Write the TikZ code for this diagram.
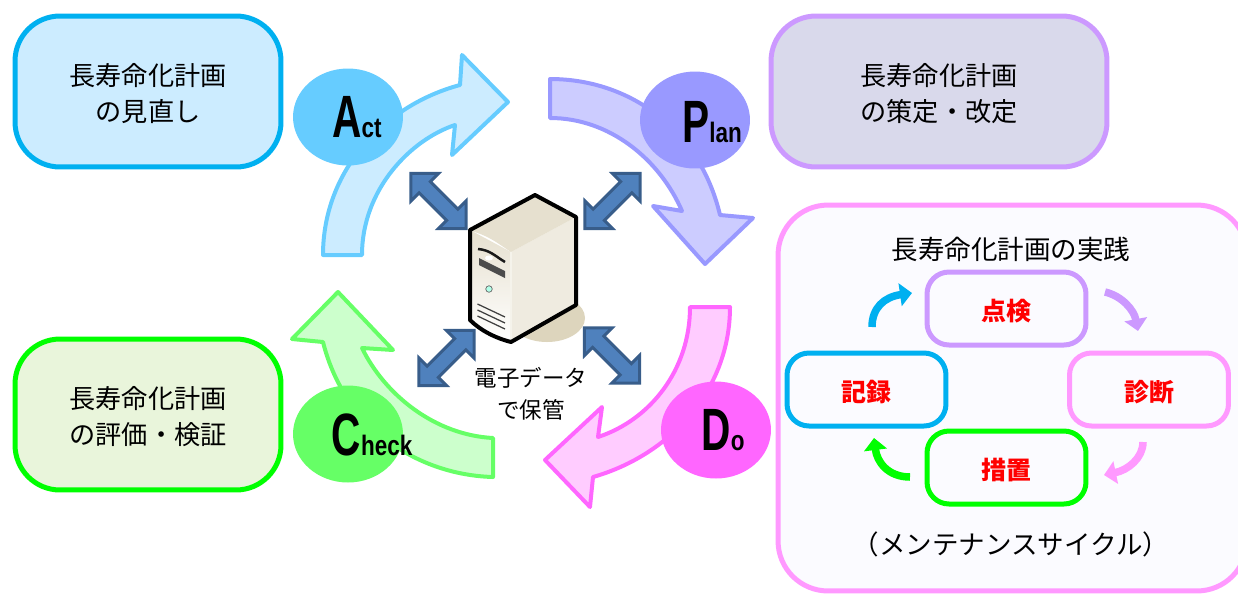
\documentclass[tikz,border=0pt]{standalone}
\usepackage{fontspec}
\setmainfont{Noto Sans CJK JP}
\newfontfamily\pdcafont{Liberation Sans}
\usetikzlibrary{arrows.meta}
\usetikzlibrary{shapes}

\definecolor{actline}{HTML}{66CCFF}
\definecolor{actfill}{HTML}{CCECFF}
\definecolor{planline}{HTML}{9999FF}
\definecolor{planfill}{HTML}{CCCCFF}
\definecolor{doline}{HTML}{FF66FF}
\definecolor{dofill}{HTML}{FFCCFF}
\definecolor{checkline}{HTML}{66FF66}
\definecolor{checkfill}{HTML}{CCFFCC}
\definecolor{cycblue}{HTML}{00B0F0}
\definecolor{cycpurple}{HTML}{CC99FF}
\definecolor{cycpink}{HTML}{FF99FF}
\definecolor{cycgreen}{HTML}{00FF00}
\definecolor{srvline}{HTML}{385D8A}
\definecolor{srvfill}{HTML}{4F81BD}
\definecolor{srvtan}{HTML}{DDD5BD}
\definecolor{srvdark}{HTML}{C9BD9B}
\definecolor{srvtop}{HTML}{E6E0CF}
\definecolor{srvpale}{HTML}{EFEBE0}
\definecolor{planbg}{HTML}{D9D9EB}
\definecolor{checkbg}{HTML}{E9F5DB}
\definecolor{dobg}{HTML}{FBFBFF}

\newcommand{\pdcaword}[2]{\scalebox{.68}[1]{\pdcafont\bfseries\fontsize{34}{34}\selectfont #1}\scalebox{.8}[1]{\pdcafont\bfseries\fontsize{16}{16}\selectfont #2}}

\tikzset{
  bigbox/.style={draw, line width=.1cm, rounded corners=.9cm, minimum height=3.02cm, align=center, inner sep=0pt, text height=35.5pt, font=\fontsize{14.9}{20.8}\selectfont},
  cycbox/.style={draw, line width=.1cm, rounded corners=.44cm, minimum width=3.18cm, minimum height=1.46cm, inner sep=0pt, text=red, fill=dobg, text height=15.3pt, font=\fontsize{14.2}{18}\selectfont\bfseries},
  bigarrow/.style={line width=.08cm, line join=round},
  pdcacircle/.style={shape=ellipse, minimum width=2.2cm, minimum height=1.94cm, inner sep=0pt},
  pdcatext/.style={anchor=base, inner sep=0pt},
  cycarrow/.style={line width=.15cm, -{Triangle[length=.24cm, width=.45cm]}},
  dblarrow/.style={shape=double arrow, draw=srvline, fill=srvfill, line width=.06cm, minimum height=1.56cm, inner xsep=0pt, inner ysep=.13cm, double arrow head extend=.23cm, line join=miter},
}

\begin{document}
\begin{tikzpicture}[x=0.02cm, y=-0.02cm]
\useasboundingbox (0,0) rectangle (1238,593);

\node [bigbox, draw=cycblue, fill=actfill, minimum width=5.32cm] (actbox) at (148,91.5) {長寿命化計画\\の見直し};
\node [bigbox, draw=cycpurple, fill=planbg, minimum width=6.72cm] (planbox) at (939,91.5) {長寿命化計画\\の策定・改定};
\node [bigbox, draw=cycgreen, fill=checkbg, minimum width=5.32cm] (checkbox) at (148,414.5) {長寿命化計画\\の評価・検証};
\node [draw=cycpink, fill=dobg, line width=.1cm, rounded corners=1cm, minimum width=9.38cm, minimum height=7.72cm] (dobox) at (1012.5,398) {};

% block arrows
\draw [bigarrow, draw=actline, fill=actfill] (323,255) .. controls (323,170) and (385,105) .. (460,85) -- (462,55) -- (508,102) -- (452,155) -- (455,125) .. controls (410,140) and (362,190) .. (362,255) -- cycle;
\draw [bigarrow, draw=planline, fill=planfill] (550,79) .. controls (630,79) and (700,130) .. (720,215) -- (753,218) -- (705,264) -- (653,206) -- (682,211) .. controls (660,160) and (610,118) .. (550,118) -- cycle;
\draw [bigarrow, draw=doline, fill=dofill] (730,307) .. controls (730,390) and (670,455) .. (593,477) -- (590,507) -- (545,460) -- (602,407) -- (598,437) .. controls (650,420) and (690,370) .. (690,307) -- cycle;
\draw [bigarrow, draw=checkline, fill=checkfill] (493,477) .. controls (420,475) and (345,430) .. (323,342) -- (292,339) -- (338,292) -- (393,350) -- (362,348) .. controls (385,395) and (435,435) .. (493,438) -- cycle;

\node [pdcacircle, fill=actline] (act) at (348,117) {};
\node [pdcacircle, fill=planline] (plan) at (695,120) {};
\node [pdcacircle, fill=checkline] (check) at (348,434) {};
\node [pdcacircle, fill=doline] (do) at (716,430) {};
\node [pdcatext] (acttext) at (357,137) {\pdcaword{A}{ct}};
\node [pdcatext] (plantext) at (712,142) {\pdcaword{P}{lan}};
\node [pdcatext] (checktext) at (372,455) {\pdcaword{C}{heck}};
\node [pdcatext] (dotext) at (723,450) {\pdcaword{D}{o}};

% server
\fill [srvtan] (547,318) ellipse [x radius=38, y radius=24];
\shade [top color=srvtop, bottom color=white] (470,230) -- (511,252) -- (511,342) -- (470,320) -- cycle;
\shade [left color=srvpale, middle color=srvdark, right color=srvpale] (511,252) -- (576,217) -- (576,305) -- (511,342) -- cycle;
\fill [srvtop] (471,231) .. controls (490,236) and (500,245) .. (511,252) -- (576,217) -- (535,195) -- cycle;
\draw [line width=.05cm, black!90] (478,249) .. controls (490,250) and (495,256) .. (505,262);
\fill [black!70] (479,258) -- (505,271) -- (505,278) -- (479,265) -- cycle;
\fill [white] (489,258) ellipse [x radius=4, y radius=2.5];
\node [circle, draw=black!60, fill=green!30!cyan!30, minimum size=.13cm, inner sep=0pt] (led) at (489,289) {};
\foreach \i in {0,6,12}
  \draw [line width=.025cm, black!75] (477.5,304+\i) -- (505,317+\i);
\draw [line width=.035cm, white!70!srvtan] (511,252) -- (511,342);
\draw [line width=.08cm, line join=round] (470,230) -- (535,195) -- (576,217) -- (576,305) -- (511,342) .. controls (495,338) and (480,330) .. (470,320) -- cycle;

\node [dblarrow, rotate=-45] (toact) at (438.5,201) {};
\node [dblarrow, rotate=45] (toplan) at (612.5,201) {};
\node [dblarrow, rotate=45] (tocheck) at (446.5,358) {};
\node [dblarrow, rotate=-45] (todo) at (612,355.5) {};
\node [align=center, inner sep=0pt, font=\fontsize{12.8}{18.4}\selectfont] (data) at (531,393.5) {電子データ\\で保管};

% maintenance cycle
\node [inner sep=0pt, font=\fontsize{15.1}{18}\selectfont] (cyctitle) at (1011,249) {長寿命化計画の実践};
\node [cycbox, draw=cycpurple] (inspect) at (1006.5,308.5) {点検};
\node [cycbox, draw=cycblue] (record) at (866.5,389.5) {記録};
\node [cycbox, draw=cycpink] (diagnose) at (1149,389.5) {診断};
\node [cycbox, draw=cycgreen] (treat) at (1006.5,467.5) {措置};
\node [inner sep=0pt, font=\fontsize{15.1}{18}\selectfont] (cycname) at (1011,544) {（メンテナンスサイクル）};

\coordinate (a1) at (872,327);
\coordinate (a2) at (912,293);
\coordinate (b1) at (1105,292);
\coordinate (b2) at (1138,331);
\coordinate (c1) at (1143,442);
\coordinate (c2) at (1104,475);
\coordinate (d1) at (910,477);
\coordinate (d2) at (874,438);
\draw [cycarrow, cycblue] (a1) .. controls (872,308) and (884,297) .. (a2);
\draw [cycarrow, cycpurple] (b1) .. controls (1122,296) and (1134,310) .. (b2);
\draw [cycarrow, cycpink] (c1) .. controls (1143,458) and (1128,470) .. (c2);
\draw [cycarrow, cycgreen] (d1) .. controls (888,477) and (877,462) .. (d2);
\end{tikzpicture}
\end{document}
